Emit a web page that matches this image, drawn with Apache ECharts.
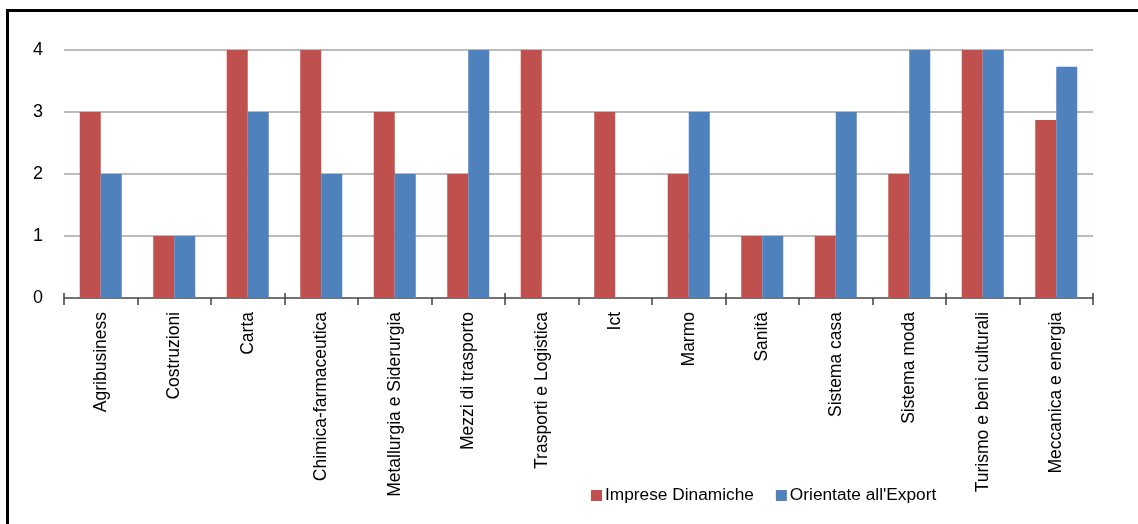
<!DOCTYPE html>
<html>
<head>
<meta charset="utf-8">
<script src="https://cdn.jsdelivr.net/npm/echarts@6/dist/echarts.min.js"></script>
<style>
  html, body { margin: 0; padding: 0; background: #fff; overflow: hidden; }
  #frame { position: absolute; left: 6px; top: 9px; width: 1300px; height: 700px;
           border: 3px solid #000; box-sizing: border-box; }
  #chart { position: absolute; left: 0; top: 0; width: 1138px; height: 524px; }
</style>
</head>
<body>
<div id="frame"></div>
<div id="chart"></div>
<script>
// Settori e punteggi delle due serie
const categories = [
  'Agribusiness', 'Costruzioni', 'Carta', 'Chimica-farmaceutica',
  'Metallurgia e Siderurgia', 'Mezzi di trasporto', 'Trasporti e Logistica',
  'Ict', 'Marmo', 'Sanità', 'Sistema casa', 'Sistema moda',
  'Turismo e beni culturali', 'Meccanica e energia'
];
const impreseDinamiche = [3, 1, 4, 4, 3, 2, 4, 3, 2, 1, 1, 2, 4, 2.87];
const orientateExport  = [2, 1, 3, 2, 2, 4, 0, 0, 3, 1, 3, 4, 4, 3.73];
const yTicks = [0, 1, 2, 3, 4];

const FONT = '"Liberation Sans", Arial, sans-serif';

const chart = echarts.init(document.getElementById('chart'), null, { renderer: 'canvas' });
chart.setOption({
  animation: false,
  backgroundColor: 'transparent',
  grid: { left: 64, right: 45, top: 50, bottom: 226, containLabel: false },
  legend: {
    data: ['Imprese Dinamiche', "Orientate all'Export"],
    left: 586, top: 482,
    itemWidth: 11, itemHeight: 11, itemGap: 22,
    icon: 'rect',
    textStyle: { fontFamily: FONT, fontSize: 17.3, color: '#000', padding: [0, 0, 0, -2] }
  },
  xAxis: [
    {
      type: 'category',
      data: categories,
      axisLine: { lineStyle: { color: '#595959', width: 1.5 } },
      axisTick: { show: true, length: 7, lineStyle: { color: '#404040', width: 1.5 } },
      axisLabel: {
        rotate: 90, margin: 14, interval: 0,
        fontFamily: FONT, fontSize: 17.5, color: '#000'
      }
    },
    {
      // short upward half of the category ticks
      type: 'category',
      data: categories,
      position: 'bottom',
      axisLine: { show: false },
      axisTick: { show: true, inside: true, length: 5, lineStyle: { color: '#404040', width: 1.5 } },
      axisLabel: { show: false }
    }
  ],
  yAxis: {
    type: 'value',
    min: 0, max: 4, interval: 1,
    axisLine: { show: false },
    axisTick: { show: false },
    axisLabel: {
      margin: 21, fontFamily: FONT, fontSize: 18, color: '#000',
      formatter: v => yTicks.includes(v) ? String(v) : ''
    },
    splitLine: { lineStyle: { color: '#a6a6a6', width: 1.5 } }
  },
  series: [
    {
      name: 'Imprese Dinamiche', type: 'bar', xAxisIndex: 0,
      data: impreseDinamiche,
      itemStyle: { color: '#c0504d' },
      barWidth: 21, barGap: '0%'
    },
    {
      name: "Orientate all'Export", type: 'bar', xAxisIndex: 0,
      data: orientateExport,
      itemStyle: { color: '#4f81bd' },
      barWidth: 21, barGap: '0%'
    }
  ]
});
</script>
</body>
</html>
